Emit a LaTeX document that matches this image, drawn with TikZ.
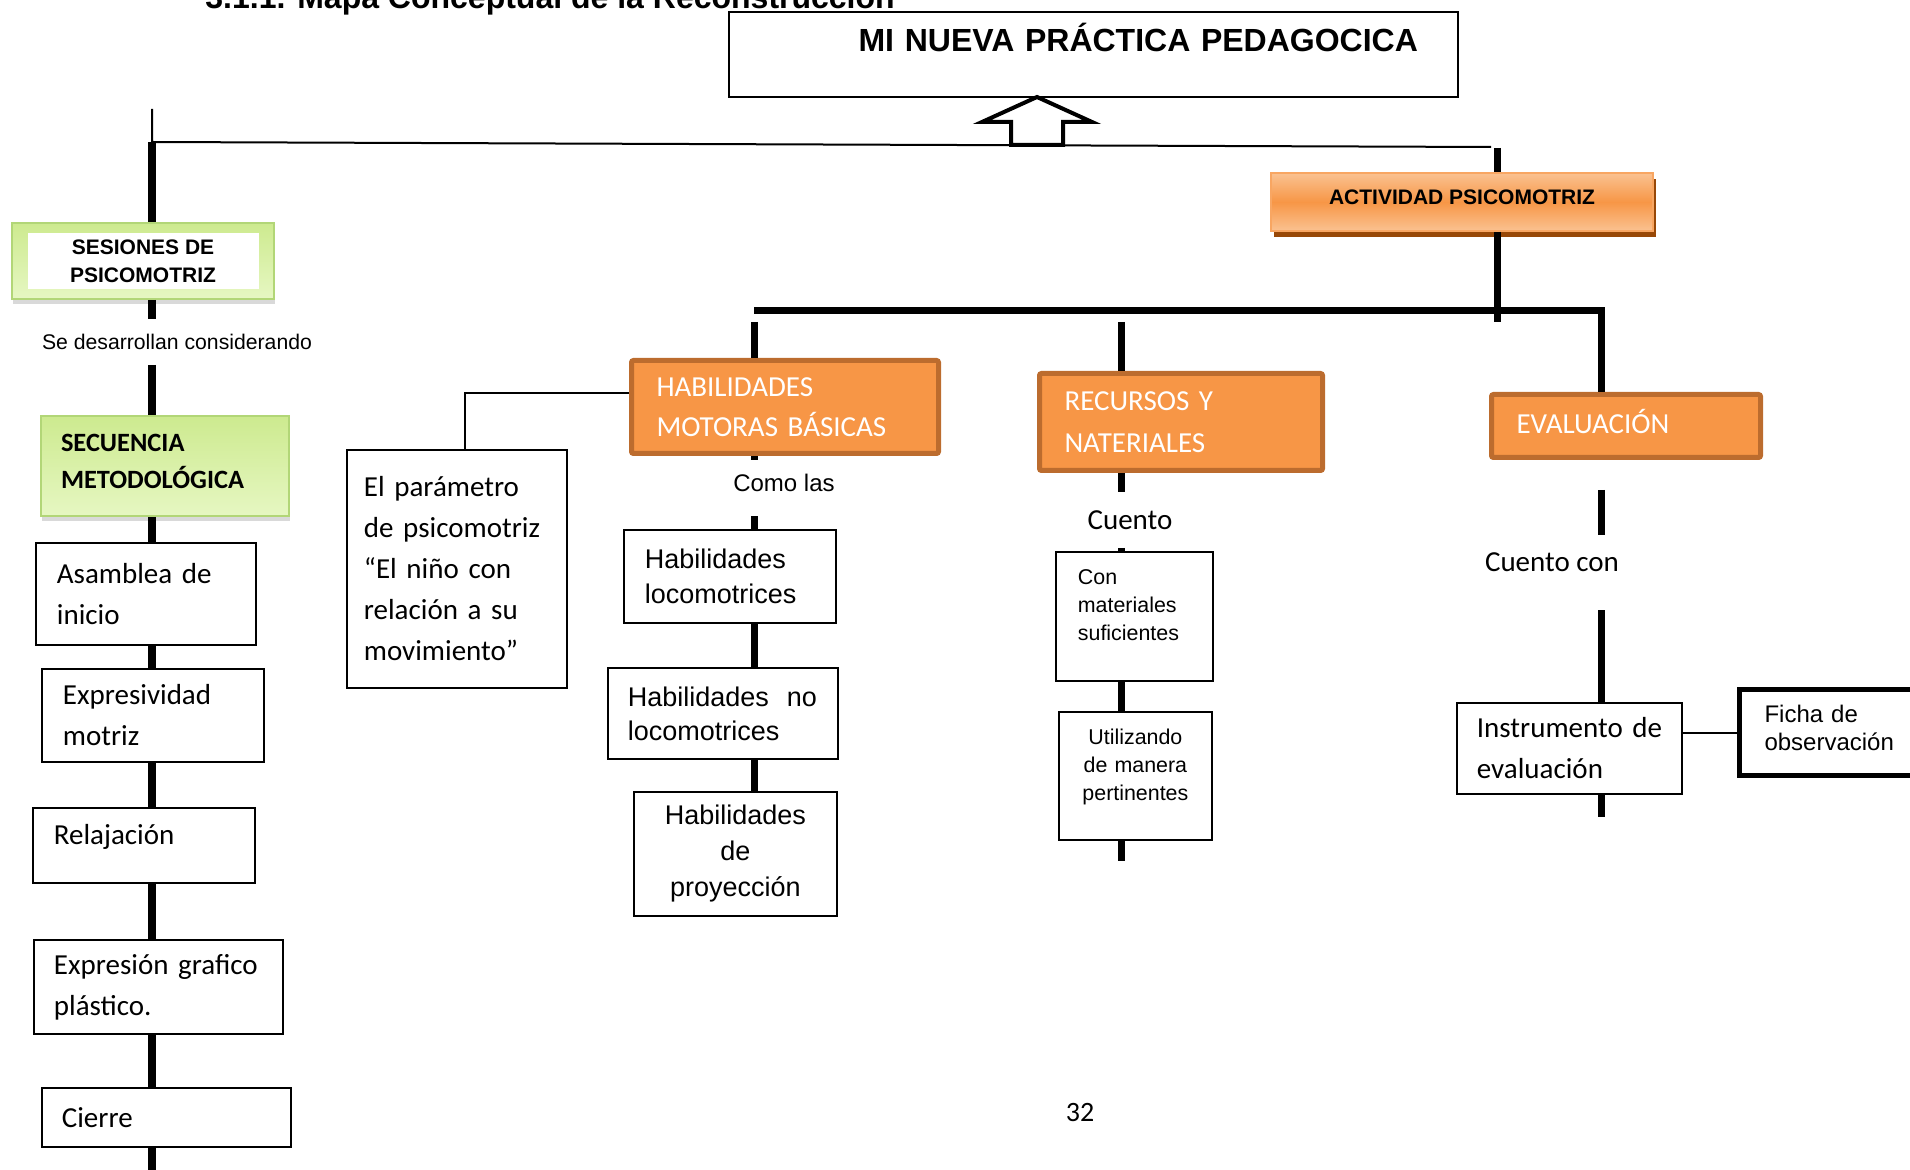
\documentclass[tikz,border=0pt]{standalone}
\usepackage{fontspec}
\setmainfont{Carlito}
\newfontfamily\arialf{Liberation Sans}
\usepackage{tikz}
\usetikzlibrary{shadows}

\definecolor{naranja}{HTML}{F79646}
\definecolor{naranjaclaro}{HTML}{FAC291}
\definecolor{bordenaranja}{HTML}{BC6C2E}
\definecolor{sombracafe}{HTML}{984807}
\definecolor{verdeclaro}{HTML}{E6F7C2}
\definecolor{verdemedio}{HTML}{CDEA8F}
\definecolor{bordeverde}{HTML}{B2D677}

\begin{document}
\begin{tikzpicture}[x=0.5pt,y=-0.5pt,
        caja/.style={draw,line width=0.9pt,fill=white,anchor=north west,inner xsep=10.5pt,inner ysep=2pt,
            align=left,font=\fontsize{14.5}{20.5}\selectfont},
        cajanaranja/.style={draw=bordenaranja,line width=2.5pt,fill=naranja,rounded corners=1pt,text=white,
            anchor=north west,inner xsep=12.5pt,inner ysep=2pt,align=left,font=\fontsize{14.5}{20}\selectfont},
        cajaactiva/.style={draw=naranja!85,line width=1pt,top color=naranjaclaro,bottom color=naranjaclaro,
            middle color=naranja,anchor=north west,
            drop shadow={opacity=1,fill=sombracafe,shadow xshift=1.5pt,shadow yshift=-3pt}},
        cajaverde/.style={draw=bordeverde,line width=1pt,top color=verdemedio,bottom color=verdeclaro,anchor=north west,
            drop shadow={opacity=0.3,shadow xshift=0.5pt,shadow yshift=-2.5pt}},
        etiqueta/.style={inner sep=0pt,font=\fontsize{14.5}{17}\selectfont},
        tronco/.style={line width=4pt},
        tallo/.style={line width=3.5pt},
        fino/.style={line width=1pt},
        flecha/.style={line width=2pt,fill=white,line join=miter}]

    \useasboundingbox (0,0) rectangle (1910,1170);

    \node[etiqueta,anchor=base west,font=\arialf\bfseries\fontsize{16}{19}\selectfont] (seccion) at (205,9)
        {3.1.1. Mapa Conceptual de la Reconstrucción};

    \node[caja,align=right,line width=1pt,text width=324.5pt,inner xsep=20pt,minimum height=42.5pt,text depth=17pt,
        font=\arialf\bfseries\fontsize{16}{19}\selectfont] (titulo) at (728,11) {MI NUEVA PRÁCTICA PEDAGOCICA};

    \node[cajaactiva,minimum width=191pt,minimum height=29pt,text depth=5pt,
        font=\arialf\bfseries\fontsize{10.5}{13}\selectfont] (actividad) at (1270,172) {ACTIVIDAD PSICOMOTRIZ};

    % columna izquierda
    \node[cajaverde,minimum width=131pt,minimum height=38pt] (sesionesmarco) at (11,222) {};
    \node[fill=white,minimum width=115.5pt,minimum height=27.5pt,align=center,
        font=\arialf\bfseries\fontsize{10.5}{14}\selectfont] (sesiones) at (sesionesmarco.center) {SESIONES DE\\PSICOMOTRIZ};
    \node[etiqueta,minimum height=22.5pt,font=\arialf\fontsize{10.6}{13}\selectfont] (desarrollan) at (177,342)
        {Se desarrollan considerando};
    \node[cajaverde,inner xsep=10pt,align=left,text width=104pt,minimum height=50pt,
        font=\bfseries\fontsize{13.2}{18.5}\selectfont] (secuencia) at (40,415) {SECUENCIA\\METODOLÓGICA\\[-13.5pt]\mbox{}};
    \node[caja,text width=89pt,minimum height=51pt] (asamblea) at (35,542) {Asamblea de\\inicio};
    \node[caja,text width=90pt,minimum height=46.5pt] (expresividad) at (41,668) {Expresividad\\motriz};
    \node[caja,text width=90pt,minimum height=37.5pt,text depth=10.5pt] (relajacion) at (32,807) {Relajación};
    \node[caja,text width=104.5pt,inner xsep=10pt,minimum height=47pt] (expresion) at (33,939)
        {Expresión~grafico\\plástico.};
    \node[caja,text width=104.5pt,inner xsep=10pt,minimum height=29.5pt] (cierre) at (41,1087) {Cierre};

    \node[caja,text width=93pt,inner xsep=8.5pt,minimum height=119pt] (parametro) at (346,449)
        {El parámetro\\\mbox{de psicomotriz}\\“El niño con\\relación a su\\movimiento”};

    % habilidades
    \node[cajanaranja,text width=128.5pt,minimum height=46.5pt] (habilidades) at (629,358) {HABILIDADES\\MOTORAS BÁSICAS};
    \node[etiqueta,minimum height=28pt,text depth=5pt,font=\arialf\fontsize{12}{14}\selectfont] (comolas) at (784,488)
        {Como las};
    \node[caja,text width=85pt,minimum height=46.5pt,font=\arialf\fontsize{13.5}{17.5}\selectfont] (hloco) at (623,529)
        {Habilidades\\locomotrices};
    \node[caja,text width=95pt,inner xsep=10pt,minimum height=45.5pt,font=\arialf\fontsize{13.5}{17}\selectfont] (hnoloco)
        at (607,667) {Habilidades~~no\\locomotrices};
    \node[caja,align=center,text width=80.5pt,minimum height=62pt,font=\arialf\fontsize{13.5}{18}\selectfont] (proyeccion)
        at (633,791) {Habilidades\\de\\proyección};

    % recursos
    \node[cajanaranja,text width=116.5pt,minimum height=48.5pt,font=\fontsize{14.5}{21}\selectfont] (recursos) at (1037,371)
        {RECURSOS Y\\NATERIALES};
    \node[etiqueta,minimum height=27.5pt] (cuento) at (1130,520) {Cuento};
    \node[caja,text width=56.5pt,inner xsep=11pt,minimum height=64.5pt,font=\arialf\fontsize{10.7}{14}\selectfont] (conmat)
        at (1055,551) {Con\\materiales\\suficientes\\[-3pt]\mbox{}};
    \node[caja,align=center,text width=61.5pt,inner xsep=7.5pt,minimum height=64pt,font=\arialf\fontsize{10.7}{14}\selectfont]
        (utilizando) at (1058,711) {Utilizando\\de manera\\pertinentes\\[-3pt]\mbox{}};

    % evaluacion
    \node[cajanaranja,text width=109.5pt,minimum height=31.5pt,text depth=5pt] (evaluacion) at (1489,392) {EVALUACIÓN};
    \node[etiqueta,minimum height=37.5pt,text depth=10pt] (cuentocon) at (1552,572.5) {Cuento con};
    \node[caja,text width=92.5pt,inner xsep=10pt,minimum height=45.5pt] (instrumento) at (1456,702)
        {Instrumento~de\\evaluación};
    \node[caja,line width=2.5pt,text width=71.5pt,inner xsep=12.5pt,minimum height=43pt,
        font=\arialf\fontsize{12}{14}\selectfont] (ficha) at (1737,687) {Ficha de\\observación\\[-9pt]\mbox{}};

    \node[etiqueta,font=\fontsize{14}{16}\selectfont] (pagina) at (1080,1113) {32};

    \coordinate (iniA) at (152,109);
    \coordinate (ejeA) at (152,142);
    \coordinate (finA) at (152,1175);
    \coordinate (finLinea) at (1491,147);
    \coordinate (ejeE) at (1497,148);
    \coordinate (finE) at (1497,322);
    \coordinate (ejeB) at (754,311);
    \coordinate (esqD) at (1601,311);
    \coordinate (ramaB) at (754,322);
    \coordinate (ramaC) at (1121,322);
    \coordinate (codo) at (465,393);
    \coordinate (finC) at (1121,861);
    \coordinate (iniD) at (1601,490);
    \coordinate (finD) at (1601,817);

    \draw[fino] (iniA) -- (ejeA) -- (finLinea);
    \draw[tronco] (ejeA) -- (sesionesmarco.north -| ejeA);
    \draw[tronco] (sesionesmarco.south -| ejeA) -- (desarrollan.north -| ejeA);
    \draw[tronco] (desarrollan.south -| ejeA) -- (secuencia.north -| ejeA);
    \draw[tronco] (secuencia.south -| ejeA) -- (asamblea.north -| ejeA);
    \draw[tronco] (asamblea.south -| ejeA) -- (expresividad.north -| ejeA);
    \draw[tronco] (expresividad.south -| ejeA) -- (relajacion.north -| ejeA);
    \draw[tronco] (relajacion.south -| ejeA) -- (expresion.north -| ejeA);
    \draw[tronco] (expresion.south -| ejeA) -- (cierre.north -| ejeA);
    \draw[tronco] (cierre.south -| ejeA) -- (finA);

    \draw[tallo] (ejeE) -- (actividad.north -| ejeE);
    \draw[tallo] (actividad.south -| ejeE) -- (finE);
    \draw[tallo] (ejeB) -- (esqD) -- (evaluacion.north -| esqD);

    \draw[tallo] (ramaB) -- (habilidades.north -| ramaB);
    \draw[tallo] (habilidades.south -| ramaB) -- (comolas.north -| ramaB);
    \draw[tallo] (comolas.south -| ramaB) -- (hloco.north -| ramaB);
    \draw[tallo] (hloco.south -| ramaB) -- (hnoloco.north -| ramaB);
    \draw[tallo] (hnoloco.south -| ramaB) -- (proyeccion.north -| ramaB);
    \draw[fino] (parametro.north -| codo) -- (codo) -- (habilidades.west |- codo);

    \draw[tallo] (ramaC) -- (recursos.north -| ramaC);
    \draw[tallo] (recursos.south -| ramaC) -- (cuento.north -| ramaC);
    \draw[tallo] (cuento.south -| ramaC) -- (conmat.north -| ramaC);
    \draw[tallo] (conmat.south -| ramaC) -- (utilizando.north -| ramaC);
    \draw[tallo] (utilizando.south -| ramaC) -- (finC);

    \draw[tallo] (iniD) -- (cuentocon.north -| iniD);
    \draw[tallo] (cuentocon.south -| iniD) -- (instrumento.north -| iniD);
    \draw[tallo] (instrumento.south -| iniD) -- (finD);
    \draw[fino] (instrumento.east |- ficha.west) -- (ficha.west);

    \draw[flecha] (1037,97) -- (1092,122) -- (1063,122) -- (1063,145) -- (1011,145) -- (1011,122) -- (982,122) -- cycle;
\end{tikzpicture}
\end{document}
